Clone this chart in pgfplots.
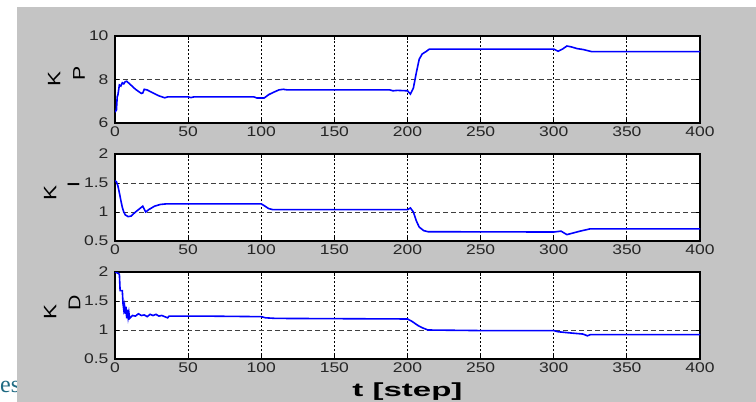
\documentclass[border=0pt]{standalone}
\usepackage{fontspec}
\setmainfont{Liberation Sans}[FakeStretch=1.25]
\newfontfamily\slideserif{Liberation Serif}
\usepackage{graphicx}
\usepackage{pgfplots}
\pgfplotsset{compat=1.18}
\definecolor{figgray}{RGB}{196,196,196}
\definecolor{slideteal}{RGB}{31,106,130}
\definecolor{lineblue}{RGB}{0,0,255}

\pgfplotsset{
  kaxis/.style={
    width=585pt, height=87pt, scale only axis,
    xmin=0, xmax=400, xtick={0,50,...,400},
    clip mode=individual,
    axis background/.style={fill=white},
    axis line style={black, line width=1.4pt},
    tick align=inside, major tick length=4pt,
    tick style={black, line width=0.8pt},
    grid=major,
    x grid style={black, line width=1pt, dash pattern=on 2pt off 2pt},
    y grid style={black!75, line width=0.8pt, dash pattern=on 5pt off 3pt},
    tick label style={font=\fontsize{14}{14}\selectfont, text=black!85},
    yticklabel style={xshift=-3pt},
    /pgf/number format/assume math mode=true,
    every axis plot/.append style={lineblue, line width=1.6pt, sharp plot, no marks},
  },
}
\tikzset{
  klab/.style={rotate=90, inner sep=0pt, anchor=center, font=\fontsize{18}{18}\selectfont},
  ksub/.style={rotate=90, inner sep=0pt, anchor=center, font=\fontsize{17}{17}\selectfont},
}

\begin{document}
\begin{tikzpicture}
\useasboundingbox (0,0) rectangle (756pt,-402pt);
\fill[white] (0,0) rectangle (756pt,-402pt);
\node[anchor=base west, inner sep=0, text=slideteal, font=\slideserif\fontsize{24}{24}\selectfont] at (0pt,-392pt) {es};
\fill[figgray] (17pt,-7pt) rectangle (756pt,-402pt);

% K_P
\begin{axis}[kaxis, at={(115pt,-123pt)}, anchor=south west,
  ymin=6, ymax=10, ytick={6,8,10}]
\addplot coordinates {
(0,6.5)(1,6.6)(1.5,7.2)(2,7.3)(3,7.75)(4,7.7)(5,7.85)(6,7.8)(7,7.9)(8,7.92)
(10,7.8)(14,7.55)(18,7.36)(19,7.38)(20,7.55)(22,7.52)(26,7.38)(30,7.25)
(34,7.16)(36,7.2)(50,7.2)(52,7.17)(54,7.2)(95,7.2)(97,7.15)(102,7.15)
(105,7.3)(108,7.4)(112,7.52)(115,7.55)(118,7.52)(188,7.52)(190,7.48)
(193,7.5)(200,7.48)(202,7.33)(204,7.6)(206,8.3)(208,8.93)(210,9.17)
(213,9.3)(215,9.4)(300,9.4)(303,9.3)(306,9.4)(309,9.54)(312,9.5)
(316,9.42)(320,9.38)(326,9.28)(400,9.28)
};
\node[klab] at (axis description cs:-0.104,0.506) {K};
\node[ksub] at (axis description cs:-0.0615,0.569) {P};
\end{axis}

% K_I
\begin{axis}[kaxis, at={(115pt,-241pt)}, anchor=south west,
  ymin=0.5, ymax=2, ytick={0.5,1,1.5,2}]
\addplot coordinates {
(0,1.54)(1,1.52)(2,1.45)(3,1.33)(4,1.2)(5,1.08)(6,1.0)(7,0.95)(9,0.92)
(11,0.93)(14,1.0)(17,1.06)(19,1.1)(20,1.05)(21,1.0)(23,1.04)(27,1.1)
(31,1.13)(35,1.14)(100,1.14)(102,1.11)(105,1.06)(108,1.04)(112,1.04)
(200,1.04)(202,1.07)(204,1.0)(206,0.85)(208,0.74)(211,0.68)(214,0.66)
(300,0.655)(305,0.67)(307,0.64)(309,0.61)(312,0.63)(318,0.67)(325,0.71)
(400,0.71)
};
\node[klab] at (axis description cs:-0.111,0.557) {K};
\node[ksub] at (axis description cs:-0.071,0.644) {I};
\end{axis}

% K_D
\begin{axis}[kaxis, at={(115pt,-359pt)}, anchor=south west,
  ymin=0.5, ymax=2, ytick={0.5,1,1.5,2},
  xlabel={\scalebox{1.39}[1]{\bfseries t [step]}},
  xlabel style={at={(axis description cs:0.5,0)}, anchor=base, yshift=-37pt,
    font=\fontsize{19}{19}\selectfont}]
\addplot coordinates {
(0,2.0)(2,1.98)(3,1.96)(3.5,1.68)(5,1.68)(5.5,1.45)(6,1.35)(6.5,1.42)
(7,1.28)(7.5,1.4)(8,1.2)(8.5,1.35)(9,1.22)(9.5,1.3)(10,1.2)(12,1.25)
(14,1.24)(16,1.28)(18,1.25)(20,1.26)(22,1.23)(24,1.27)(26,1.25)(28,1.27)
(30,1.24)(32,1.25)(34,1.23)(36,1.21)(37,1.24)(60,1.24)(100,1.23)
(103,1.21)(110,1.2)(200,1.19)(203,1.15)(207,1.08)(210,1.04)(214,1.0)
(250,0.99)(300,0.99)(303,0.97)(311,0.95)(320,0.93)(323,0.9)(325,0.92)
(400,0.92)
};
\node[klab] at (axis description cs:-0.111,0.545) {K};
\node[ksub] at (axis description cs:-0.069,0.646) {D};
\end{axis}
\end{tikzpicture}
\end{document}
